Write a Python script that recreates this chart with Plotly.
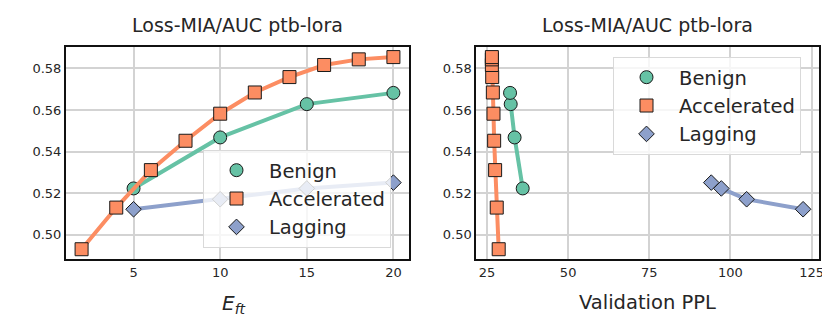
import plotly.graph_objects as go
from plotly.subplots import make_subplots

# ---- data ----
series_names = ["Benign", "Accelerated", "Lagging"]
benign_eft = [5, 10, 15, 20]
benign_auc = [0.5223, 0.5468, 0.5628, 0.5682]
benign_ppl = [36.0, 33.5, 32.3, 32.1]

accel_eft = [2, 4, 6, 8, 10, 12, 14, 16, 18, 20]
accel_auc = [0.4931, 0.5131, 0.5311, 0.5452, 0.5582, 0.5684, 0.5758, 0.5816, 0.5843, 0.5854]
accel_ppl = [28.6, 28.0, 27.5, 27.2, 27.0, 26.8, 26.6, 26.5, 26.5, 26.5]

lag_eft = [5, 10, 15, 20]
lag_auc = [0.5123, 0.5171, 0.5223, 0.5251]
lag_ppl = [122.4, 105.0, 97.2, 94.1]

left_xticks = [5, 10, 15, 20]
right_xticks = [25, 50, 75, 100, 125]
yticks = [0.50, 0.52, 0.54, 0.56, 0.58]
title_text = "Loss-MIA/AUC ptb-lora"

colors = {"Benign": "#66c2a5", "Accelerated": "#fc8d62", "Lagging": "#8da0cb"}
symbols = {"Benign": "circle", "Accelerated": "square", "Lagging": "diamond"}
msizes = {"Benign": 13, "Accelerated": 13, "Lagging": 12}

W, H = 830, 319
fig = make_subplots(rows=1, cols=2)

left_data = {"Benign": (benign_eft, benign_auc), "Accelerated": (accel_eft, accel_auc), "Lagging": (lag_eft, lag_auc)}
right_data = {"Benign": (benign_ppl, benign_auc), "Accelerated": (accel_ppl, accel_auc), "Lagging": (lag_ppl, lag_auc)}

for col, data, leg in [(1, left_data, "legend"), (2, right_data, "legend2")]:
    for name in series_names:
        xs, ys = data[name]
        fig.add_trace(go.Scatter(x=xs, y=ys, mode="lines", line=dict(color=colors[name], width=4),
                                 showlegend=False, hoverinfo="skip"), row=1, col=col)
        fig.add_trace(go.Scatter(x=xs, y=ys, mode="markers", name=name, legend=leg,
                                 marker=dict(color=colors[name], symbol=symbols[name], size=msizes[name],
                                             line=dict(color="#1a1a1a", width=1))), row=1, col=col)

y0, y1 = 1 - 251 / H, 1 - 39.3 / H
legfont = dict(size=19.5, color="#262626")
fig.update_layout(
    width=W, height=H, margin=dict(l=0, r=0, t=0, b=0),
    paper_bgcolor="white", plot_bgcolor="white",
    font=dict(family="DejaVu Sans", color="#262626"),
    xaxis=dict(domain=[58 / W, 401 / W], range=[1.1, 20.9], tickvals=left_xticks),
    xaxis2=dict(domain=[468.3 / W, 811 / W], range=[21.7, 127.3], tickvals=right_xticks),
    yaxis=dict(domain=[y0, y1], range=[0.4884, 0.5901], tickvals=yticks, tickformat=".2f"),
    yaxis2=dict(domain=[y0, y1], range=[0.4884, 0.5901], tickvals=yticks, tickformat=".2f"),
    legend=dict(x=383 / W, y=1 - 240 / H, xanchor="right", yanchor="bottom",
                bgcolor="rgba(255,255,255,0.8)", bordercolor="#d9d9d9", borderwidth=1,
                font=legfont, itemwidth=55),
    legend2=dict(x=793 / W, y=1 - 49 / H, xanchor="right", yanchor="top",
                 bgcolor="rgba(255,255,255,0.8)", bordercolor="#d9d9d9", borderwidth=1,
                 font=legfont, itemwidth=55),
)
for ax in ["xaxis", "xaxis2", "yaxis", "yaxis2"]:
    fig.layout[ax].update(showgrid=True, gridcolor="#d3d3d3", gridwidth=1.5, zeroline=False,
                          showline=True, linecolor="#111111", linewidth=2, mirror=True,
                          ticks="", automargin=False, tickfont=dict(size=13, color="#262626"))

for cx in [(58 + 401) / 2, (468.3 + 811) / 2]:
    fig.add_annotation(x=cx / W, y=1 - 17 / H, xref="paper", yref="paper", text=title_text,
                       showarrow=False, font=dict(size=19, color="#262626"), xanchor="center", yanchor="middle")
fig.add_annotation(x=226 / W, y=1 - 296 / H, xref="paper", yref="paper", text="<i>E</i><sub><i>ft</i></sub>",
                   showarrow=False, font=dict(size=20, color="#262626"), xanchor="center", yanchor="middle")
fig.add_annotation(x=639.6 / W, y=1 - 294 / H, xref="paper", yref="paper", text="Validation PPL",
                   showarrow=False, font=dict(size=19.5, color="#262626"), xanchor="center", yanchor="middle")

fig.write_html("out.html")
